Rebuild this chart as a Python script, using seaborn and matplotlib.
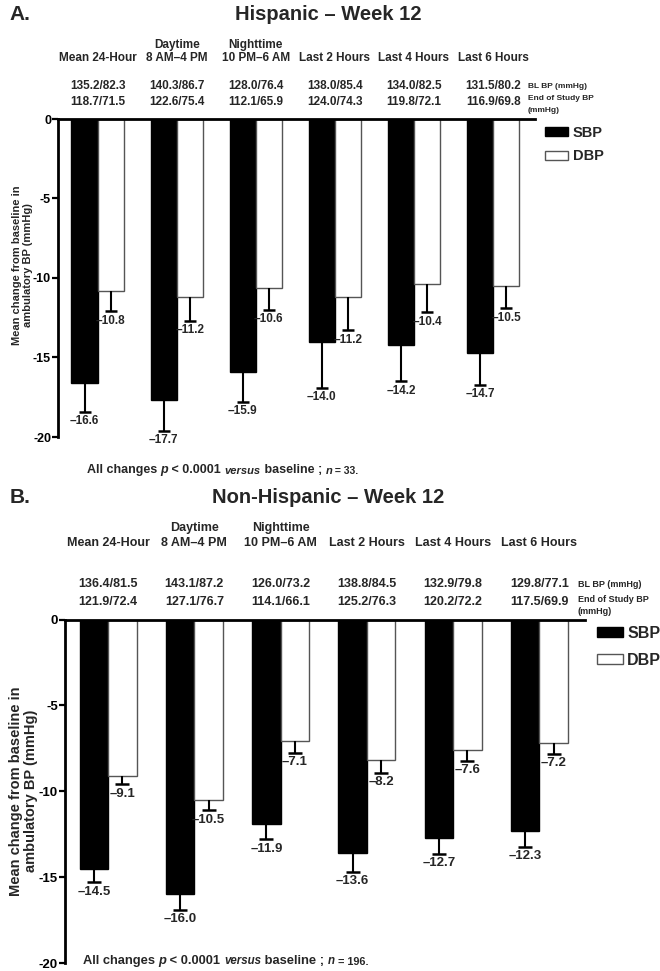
import numpy as np
import pandas as pd
import matplotlib
matplotlib.use("Agg")
import matplotlib.pyplot as plt
import matplotlib.transforms as mtransforms
from matplotlib.patches import Patch
import seaborn as sns

# ---------------- data ----------------
periods = ["Mean 24-Hour", "Daytime\n8 AM\u20134 PM", "Nighttime\n10 PM\u20136 AM",
           "Last 2 Hours", "Last 4 Hours", "Last 6 Hours"]
measures = ["SBP", "DBP"]

hisp_sbp = [-16.6, -17.7, -15.9, -14.0, -14.2, -14.7]
hisp_dbp = [-10.8, -11.2, -10.6, -11.2, -10.4, -10.5]
hisp_sbp_err = [1.8, 1.9, 1.9, 2.9, 2.3, 2.0]
hisp_dbp_err = [1.3, 1.5, 1.4, 2.1, 1.75, 1.4]
hisp_bl = ["135.2/82.3", "140.3/86.7", "128.0/76.4", "138.0/85.4", "134.0/82.5", "131.5/80.2"]
hisp_end = ["118.7/71.5", "122.6/75.4", "112.1/65.9", "124.0/74.3", "119.8/72.1", "116.9/69.8"]
hisp_n = "33"

non_sbp = [-14.5, -16.0, -11.9, -13.6, -12.7, -12.3]
non_dbp = [-9.1, -10.5, -7.1, -8.2, -7.6, -7.2]
non_sbp_err = [0.8, 0.9, 0.9, 1.1, 0.95, 0.93]
non_dbp_err = [0.5, 0.6, 0.65, 0.72, 0.62, 0.62]
non_bl = ["136.4/81.5", "143.1/87.2", "126.0/73.2", "138.8/84.5", "132.9/79.8", "129.8/77.1"]
non_end = ["121.9/72.4", "127.1/76.7", "114.1/66.1", "125.2/76.3", "120.2/72.2", "117.5/69.9"]
non_n = "196"

y_ticks = [0, -5, -10, -15, -20]

# ---------------- style ----------------
sns.set_theme(style="ticks")
plt.rcParams["font.family"] = ["Liberation Sans", "DejaVu Sans"]
plt.rcParams["font.weight"] = "bold"

W, H = 660, 971
fig = plt.figure(figsize=(W / 100, H / 100), dpi=100)


def fy(px):
    return 1 - px / H


def fx(px):
    return px / W


def panel(rect, letter, title, sbp, dbp, sbp_err, dbp_err, bl, end, n, cfg):
    ax = fig.add_axes(rect)
    df = pd.DataFrame({
        "period": periods * 2,
        "measure": ["SBP"] * len(periods) + ["DBP"] * len(periods),
        "change": list(sbp) + list(dbp),
    })
    sns.barplot(data=df, x="period", y="change", hue="measure", order=periods,
                hue_order=measures, palette={"SBP": "black", "DBP": "white"},
                width=0.66, errorbar=None, legend=False, saturation=1, ax=ax)
    ax.set_ylim(-20, 0)
    ax.set_xlim(-0.5, 5.53)
    ax.set_yticks(y_ticks)
    ax.set_yticklabels([str(t) for t in y_ticks], fontsize=cfg["tick_fs"], fontweight="bold")
    ax.set_xlabel("")
    ax.set_ylabel("Mean change from baseline in\nambulatory BP (mmHg)",
                  fontsize=cfg["ylab_fs"], fontweight="bold", linespacing=1.1)
    ax.yaxis.set_label_coords(cfg["ylab_x"], cfg["ylab_y"])
    ax.tick_params(axis="x", bottom=False, labelbottom=False, top=False)
    ax.tick_params(axis="y", length=4, width=1.6, pad=1, colors="black")
    for side in ["right", "bottom"]:
        ax.spines[side].set_visible(False)
    for side in ["top", "left"]:
        ax.spines[side].set_visible(True)
        ax.spines[side].set_linewidth(2)
        ax.spines[side].set_color("black")
    ax.set_facecolor("white")

    errs = {"SBP": sbp_err, "DBP": dbp_err}
    vals = {"SBP": sbp, "DBP": dbp}
    edge = {"SBP": "black", "DBP": "#555555"}
    centers = {}
    for cont, m in zip(ax.containers, measures):
        patches = sorted(cont.patches, key=lambda p: p.get_x())
        for p in patches:
            p.set_edgecolor(edge[m])
            p.set_linewidth(1.0)
        xs = np.array([p.get_x() + p.get_width() / 2 for p in patches])
        centers[m] = xs
        v = np.array(vals[m])
        e = np.array(errs[m])
        ax.errorbar(xs, v, yerr=[e, np.zeros_like(e)], fmt="none", ecolor="black",
                    elinewidth=1.5, capsize=0, zorder=3)
        ax.plot(xs, v - e, ls="none", marker="_", markersize=cfg["cap"], mew=1.8,
                color="black", zorder=3)
        for x, yv, ee in zip(xs, v, e):
            ax.annotate(f"\u2013{abs(yv):.1f}", xy=(x, yv - ee), xytext=(0, -2.5),
                        textcoords="offset points", ha="center", va="top",
                        fontsize=cfg["val_fs"], fontweight="bold", annotation_clip=False)

    group_x = (centers["SBP"] + centers["DBP"]) / 2
    tr = mtransforms.blended_transform_factory(ax.transData, fig.transFigure)

    # titles
    fig.text(fx(20), fy(cfg["title_y"]), letter, fontsize=15, fontweight="bold",
             ha="center", va="center")
    fig.text(0.497, fy(cfg["title_y"]), title, fontsize=14.5, fontweight="bold",
             ha="center", va="center")

    # column headers
    for x, lab in zip(group_x, periods):
        lines = lab.split("\n")
        if len(lines) == 2:
            ax.text(x, fy(cfg["h1"]), lines[0], transform=tr, ha="center", va="center",
                    fontsize=cfg["hdr_fs"], fontweight="bold")
        ax.text(x, fy(cfg["h2"]), lines[-1], transform=tr, ha="center", va="center",
                fontsize=cfg["hdr_fs"], fontweight="bold")
    for x, b, e in zip(group_x, bl, end):
        ax.text(x, fy(cfg["bl_y"]), b, transform=tr, ha="center", va="center",
                fontsize=cfg["num_fs"], fontweight="bold")
        ax.text(x, fy(cfg["end_y"]), e, transform=tr, ha="center", va="center",
                fontsize=cfg["num_fs"], fontweight="bold")
    fig.text(fx(cfg["side_x"]), fy(cfg["bl_y"]), "BL BP (mmHg)", fontsize=cfg["side_fs"],
             fontweight="bold", ha="left", va="center")
    fig.text(fx(cfg["side_x"]), fy(cfg["end_y"] - 3), "End of Study BP", fontsize=cfg["side_fs"],
             fontweight="bold", ha="left", va="center")
    fig.text(fx(cfg["side_x"]), fy(cfg["end_y"] + 9), "(mmHg)", fontsize=cfg["side_fs"],
             fontweight="bold", ha="left", va="center")

    # legend
    handles = [Patch(facecolor="black", edgecolor="black", label="SBP"),
               Patch(facecolor="white", edgecolor="#555555", label="DBP")]
    ax.legend(handles=handles, loc="upper left",
              bbox_to_anchor=(fx(cfg["leg_x"]), fy(cfg["leg_y"])),
              bbox_transform=fig.transFigure, frameon=False,
              prop={"weight": "bold", "size": cfg["leg_fs"]},
              handlelength=cfg["hl"], handleheight=0.6, handletextpad=0.3,
              labelspacing=cfg["ls"], borderpad=0, borderaxespad=0)

    # footnote (mixed styles)
    fs = cfg["foot_fs"]
    pieces = [("All changes ", "normal", fs), ("p", "italic", fs),
              (" < 0.0001 ", "normal", fs), ("versus", "italic", fs - 1),
              (" baseline ; ", "normal", fs), ("n", "italic", fs - 1),
              (f" = {n}.", "normal", fs - 1.5)]
    prev = fig.text(fx(cfg["foot_x"]), fy(cfg["foot_y"]), pieces[0][0], fontsize=fs,
                    fontweight="bold", ha="left", va="center")
    for s, st, sz in pieces[1:]:
        prev = ax.annotate(s, xy=(1, 0), xycoords=prev, ha="left", va="bottom",
                           fontsize=sz, fontweight="bold", fontstyle=st,
                           annotation_clip=False)
    return ax


cfg_a = dict(tick_fs=9, ylab_fs=8, ylab_x=-0.052, ylab_y=0.54, cap=9, val_fs=8.5, title_y=14,
             hdr_fs=8.5, num_fs=8.5, h1=45, h2=58, bl_y=86, end_y=102, side_x=528,
             side_fs=6, leg_x=545, leg_y=126, leg_fs=10.5, hl=1.6, ls=0.65,
             foot_fs=9, foot_x=87, foot_y=470)
cfg_b = dict(tick_fs=9.5, ylab_fs=10.5, ylab_x=-0.052, ylab_y=0.5, cap=10, val_fs=9.5, title_y=497,
             hdr_fs=9, num_fs=9, h1=528, h2=543, bl_y=584, end_y=602, side_x=578,
             side_fs=6.5, leg_x=597, leg_y=626, leg_fs=11.5, hl=1.6, ls=0.75,
             foot_fs=9.3, foot_x=83, foot_y=961)

panel([fx(58), fy(437), fx(535) - fx(58), (437 - 119) / H], "A.",
      "Hispanic \u2013 Week 12", hisp_sbp, hisp_dbp, hisp_sbp_err, hisp_dbp_err,
      hisp_bl, hisp_end, hisp_n, cfg_a)
panel([fx(65), fy(963), fx(585) - fx(65), (963 - 619.5) / H], "B.",
      "Non-Hispanic \u2013 Week 12", non_sbp, non_dbp, non_sbp_err, non_dbp_err,
      non_bl, non_end, non_n, cfg_b)

fig.savefig("out.png", dpi=100, facecolor="white")
